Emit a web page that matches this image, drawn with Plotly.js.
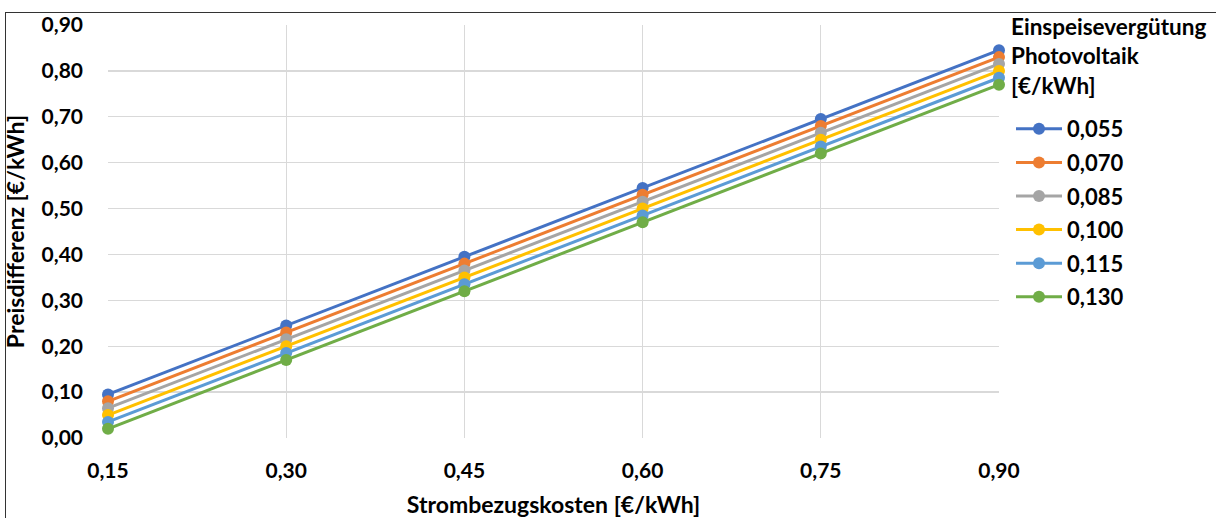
<!DOCTYPE html>
<html><head><meta charset="utf-8">
<script src="https://cdn.plot.ly/plotly-3.0.1.min.js"></script>
<style>
html,body{margin:0;padding:0;background:#fff;}
#wrap{position:relative;width:1216px;height:518px;overflow:hidden;}
#frame{position:absolute;left:5px;top:12px;width:1300px;height:600px;border-top:1.5px solid #333;border-left:1.5px solid #333;pointer-events:none;}
#chart{position:absolute;left:0;top:0;width:1216px;height:518px;}
</style></head>
<body><div id="wrap"><div id="chart"></div><div id="frame"></div></div>
<script>
const categories = ["0,15","0,30","0,45","0,60","0,75","0,90"];
const seriesNames = ["0,055","0,070","0,085","0,100","0,115","0,130"];
const s055 = [0.095,0.245,0.395,0.545,0.695,0.845];
const s070 = [0.080,0.230,0.380,0.530,0.680,0.830];
const s085 = [0.065,0.215,0.365,0.515,0.665,0.815];
const s100 = [0.050,0.200,0.350,0.500,0.650,0.800];
const s115 = [0.035,0.185,0.335,0.485,0.635,0.785];
const s130 = [0.020,0.170,0.320,0.470,0.620,0.770];
const yTickVals = [0,0.1,0.2,0.3,0.4,0.5,0.6,0.7,0.8,0.9];
const yTickText = ["0,00","0,10","0,20","0,30","0,40","0,50","0,60","0,70","0,80","0,90"];
const legendTitle = "<b>Einspeisevergütung<br>Photovoltaik<br>[€/kWh]</b>";
const colors = ["#4472C4","#ED7D31","#A5A5A5","#FFC000","#5B9BD5","#70AD47"];
const allSeries = [s055,s070,s085,s100,s115,s130];
const F = "Lato, 'Open Sans', sans-serif";
const traces = allSeries.map((ys,i)=>({
  type:"scatter", mode:"lines+markers", x:categories, y:ys, name:seriesNames[i],
  legendgroup:"g"+i, cliponaxis:false,
  line:{color:colors[i], width:3}, marker:{color:colors[i], size:12}
}));
const layout = {
  width:1216, height:518,
  margin:{l:108, r:217, t:25, b:80},
  paper_bgcolor:"#fff", plot_bgcolor:"#fff",
  font:{family:F, color:"#000"},
  showlegend:true,
  legend:{x:(1011-108)/891, y:(438-108)/413, xanchor:"left", yanchor:"top", maxheight:600,
    font:{family:F, size:22, color:"#000", weight:"bold"},
    tracegroupgap:2, itemwidth:46},
  annotations:[{text:legendTitle, xref:"paper", yref:"paper", x:(1009-108)/891, y:(438-11)/413,
    xanchor:"left", yanchor:"top", align:"left", showarrow:false,
    font:{family:F, size:22.5, color:"#000"}}],
  xaxis:{type:"category", range:[0,5], showgrid:true, gridcolor:"#D9D9D9", gridwidth:1.3,
    zeroline:false, showline:false, ticks:"", ticklabelstandoff:18,
    tickfont:{family:F, size:21, color:"#000", weight:"bold"},
    title:{text:"<b>Strombezugskosten [€/kWh]</b>", font:{family:F, size:23, color:"#000"}, standoff:18}},
  yaxis:{range:[0,0.9], tickvals:yTickVals, ticktext:yTickText, showgrid:true, gridcolor:"#D9D9D9", gridwidth:1.3,
    zeroline:false, showline:false, ticks:"", ticklabelstandoff:24,
    tickfont:{family:F, size:21, color:"#000", weight:"bold"},
    title:{text:"<b>Preisdifferenz [€/kWh]</b>", font:{family:F, size:23, color:"#000"}, standoff:10}}
};
Plotly.newPlot("chart", traces, layout, {displayModeBar:false, staticPlot:true});
</script></body></html>
